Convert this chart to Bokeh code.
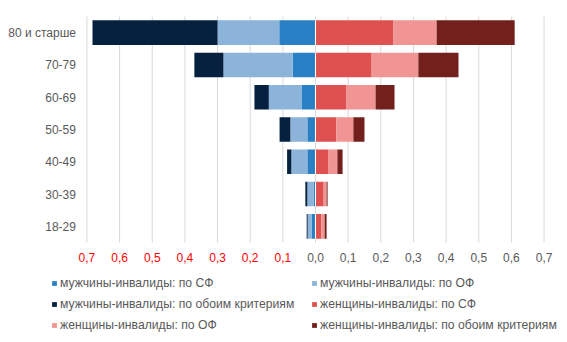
import numpy as np
from bokeh.plotting import figure
from bokeh.models import ColumnDataSource, Legend, LegendItem, Range1d
from bokeh.core.properties import value
from bokeh.embed import file_html
from bokeh.resources import INLINE

# ---- data ----
categories = ["18-29", "30-39", "40-49", "50-59", "60-69", "70-79", "80 и старше"]
men_sf = [0.012, 0.005, 0.025, 0.025, 0.043, 0.070, 0.111]
men_of = [0.012, 0.020, 0.049, 0.052, 0.100, 0.212, 0.189]
men_both = [0.003, 0.006, 0.013, 0.033, 0.044, 0.089, 0.383]
women_sf = [0.018, 0.025, 0.040, 0.064, 0.095, 0.172, 0.239]
women_of = [0.010, 0.009, 0.027, 0.052, 0.089, 0.143, 0.132]
women_both = [0.006, 0.003, 0.016, 0.034, 0.058, 0.123, 0.239]

series_names = ["мужчины-инвалиды: по СФ", "мужчины-инвалиды: по ОФ",
                "мужчины-инвалиды: по обоим критериям", "женщины-инвалиды: по СФ",
                "женщины-инвалиды: по ОФ", "женщины-инвалиды: по обоим критериям"]
colors = ["#2A80C4", "#8CB4DB", "#06203F", "#DF5150", "#F09593", "#73201D"]

tick_values = [-0.7, -0.6, -0.5, -0.4, -0.3, -0.2, -0.1, 0.0, 0.1, 0.2, 0.3, 0.4, 0.5, 0.6, 0.7]
tick_labels = ["0,7", "0,6", "0,5", "0,4", "0,3", "0,2", "0,1", "0,0",
               "0,1", "0,2", "0,3", "0,4", "0,5", "0,6", "0,7"]

FONT = "Liberation Sans"
GRAY = "#595959"

# ---- layout (pixels) ----
W, H = 567, 342
KX = 326.5            # px per unit on x
X0 = 315.0            # pixel of x = 0
ROW = 32.286          # px per category row
BOTTOM = 242.0        # pixel of the bottom of the category band

x_start, x_end = -X0 / KX, (W - X0) / KX
y_start, y_end = -0.5 - (H - BOTTOM) / ROW, BOTTOM / ROW - 0.5

p = figure(width=W, height=H, output_backend="svg", toolbar_location=None,
           x_range=Range1d(x_start, x_end), y_range=Range1d(y_start, y_end),
           min_border=0)
p.min_border_left = p.min_border_right = p.min_border_top = p.min_border_bottom = 0
p.outline_line_color = None
p.axis.visible = False
p.grid.visible = False

ypos = list(range(len(categories)))
n_cat = len(categories)

# gridlines
p.segment(x0=tick_values, x1=tick_values, y0=-0.5, y1=n_cat - 0.5,
          line_color="#D9D9D9", line_width=1)

men = [men_sf, men_of, men_both]
women = [women_sf, women_of, women_both]
renderers = []
cum = np.zeros(n_cat)
for vals, col in zip(men, colors[:3]):
    v = np.array(vals)
    src = ColumnDataSource(dict(y=ypos, left=-(cum + v), right=-cum))
    renderers.append(p.hbar(y="y", left="left", right="right", height=0.76,
                            source=src, fill_color=col, line_color=None))
    cum = cum + v
cum = np.zeros(n_cat)
for vals, col in zip(women, colors[3:]):
    v = np.array(vals)
    src = ColumnDataSource(dict(y=ypos, left=cum, right=cum + v))
    renderers.append(p.hbar(y="y", left="left", right="right", height=0.76,
                            source=src, fill_color=col, line_color=None))
    cum = cum + v

# thin white separator at zero through the bars
p.hbar(y=ypos, left=-0.0016, right=0.0016, height=0.76,
       fill_color="white", line_color=None)

# category labels
p.text(x=-0.7 - 11 / KX, y=ypos, text=categories, text_align="right",
       text_baseline="middle", text_font=value(FONT), text_font_size="12px",
       text_color=GRAY)

# x tick labels
tick_colors = ["#FF0000" if t < 0 else GRAY for t in tick_values]
p.text(x=tick_values, y=-0.5 - 15 / ROW, text=tick_labels, text_align="center",
       text_baseline="middle", text_font=value(FONT), text_font_size="12px",
       text_color=tick_colors)

def make_legend(idx, loc):
    items = [LegendItem(label=series_names[i], renderers=[renderers[i]]) for i in idx]
    return Legend(items=items, location=loc, orientation="vertical",
                  glyph_width=6, glyph_height=6, label_standoff=3,
                  label_height=14, spacing=7, padding=0, margin=0,
                  border_line_color=None, background_fill_alpha=0,
                  label_text_font=FONT, label_text_font_size="12.2px",
                  label_text_color=GRAY)

p.add_layout(make_legend([0, 2, 4], (51, 10)), "center")
p.add_layout(make_legend([1, 3, 5], (311, 10)), "center")

open("out.html", "w").write(file_html(p, INLINE))
